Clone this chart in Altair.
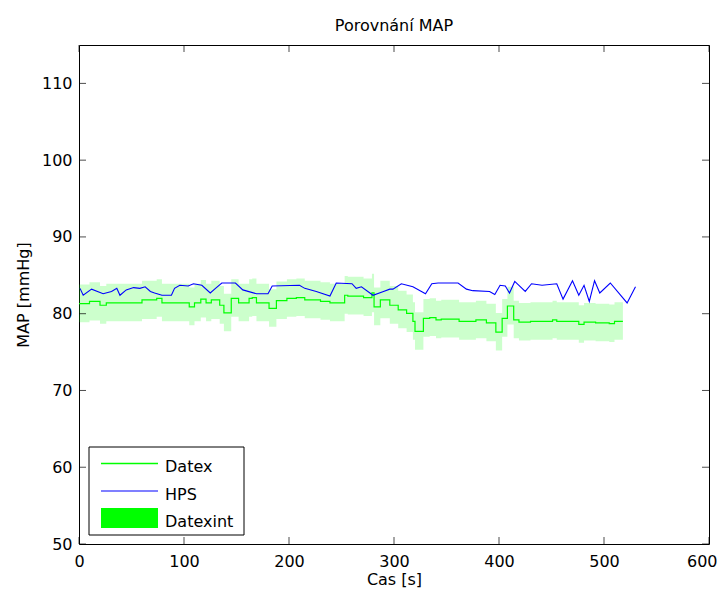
import altair as alt
import pandas as pd

# ---- data ----
hps_t = [1, 4, 12, 23, 31, 36, 39, 45, 52, 58, 63, 68, 72, 79, 88, 91, 96, 104, 109, 117,
         125, 130, 136, 142, 149, 156, 169, 180, 184, 210, 215, 226, 239, 245, 260, 264, 269,
         279, 280, 290, 296, 299, 307, 318, 330, 336, 342, 349, 361, 369, 375, 391, 396, 401,
         406, 410, 415, 425, 431, 441, 455, 461, 470, 476, 481, 486, 491, 496, 506, 522, 530]
hps_map = [83.3, 82.4, 83.2, 82.6, 82.9, 83.3, 82.4, 83.1, 83.4, 83.3, 83.5, 82.9, 82.7, 82.4,
           82.4, 83.3, 83.7, 83.6, 83.9, 83.7, 82.7, 83.3, 84.0, 84.0, 84.0, 83.1, 82.6, 82.6,
           83.6, 83.7, 83.3, 82.9, 82.3, 84.0, 83.9, 83.3, 83.5, 82.5, 82.4, 82.9, 83.2, 83.2,
           83.9, 83.5, 82.6, 83.9, 84.0, 84.0, 84.0, 83.2, 83.0, 82.9, 82.5, 83.7, 83.6, 82.7,
           84.2, 82.9, 83.9, 83.7, 83.9, 81.9, 84.3, 82.4, 83.7, 81.6, 84.3, 82.7, 84.0, 81.4, 83.5]

datex_t = [0, 10, 20, 26, 60, 74, 79, 105, 110, 116, 121, 126, 134, 138, 145, 152, 162, 165,
           169, 181, 188, 198, 207, 215, 230, 239, 253, 256, 271, 279, 281, 287, 296, 304, 312,
           318, 320, 328, 334, 340, 345, 362, 378, 388, 397, 403, 408, 414, 419, 430, 451, 455,
           476, 481, 492, 505, 510, 518]
datex_map = [81.3, 81.6, 81.1, 81.4, 81.8, 82.0, 81.4, 80.9, 81.4, 81.9, 81.4, 81.8, 81.1, 80.1,
             82.0, 81.4, 82.0, 82.1, 81.4, 80.7, 81.7, 82.0, 82.1, 81.8, 81.6, 81.4, 82.4, 82.3,
             82.1, 82.7, 80.9, 81.8, 81.1, 80.5, 80.05, 79.0, 77.7, 79.4, 79.5, 79.2, 79.3, 79.0,
             79.2, 78.8, 77.6, 79.4, 81.0, 79.2, 78.9, 79.0, 79.2, 79.0, 78.6, 78.9, 78.8, 78.7,
             79.0, 79.0]
datex_lo = [78.9, 79.1, 78.7, 79.0, 79.3, 79.6, 79.0, 78.5, 79.0, 79.5, 79.0, 79.3, 78.7, 77.7,
            79.6, 79.0, 79.6, 79.7, 79.0, 78.3, 79.3, 79.6, 79.7, 79.4, 79.2, 79.0, 80.0, 79.9,
            79.7, 80.2, 78.5, 79.4, 78.7, 78.1, 77.6, 76.6, 75.3, 77.0, 77.1, 76.8, 76.9, 76.6,
            76.8, 76.4, 75.2, 77.0, 78.6, 76.8, 76.5, 76.6, 76.8, 76.6, 76.2, 76.5, 76.4, 76.3,
            76.6, 76.6]
datex_hi = [83.8, 84.1, 83.6, 83.9, 84.3, 84.5, 83.9, 83.4, 83.9, 84.4, 83.9, 84.3, 83.6, 82.6,
            84.5, 83.9, 84.5, 84.6, 83.9, 83.2, 84.2, 84.5, 84.6, 84.3, 84.1, 83.9, 84.9, 84.8,
            84.6, 85.2, 83.4, 84.3, 83.6, 83.0, 82.5, 81.5, 80.2, 81.9, 82.0, 81.7, 81.8, 81.5,
            81.7, 81.3, 80.1, 81.9, 83.5, 81.7, 81.4, 81.5, 81.7, 81.5, 81.1, 81.4, 81.3, 81.2,
            81.5, 81.5]

x_ticks = [0, 100, 200, 300, 400, 500, 600]
y_ticks = [50, 60, 70, 80, 90, 100, 110]
legend_labels = ["Datex", "HPS", "Datexint"]

# ---- layout ----
W, H = 630, 499
FONT = "DejaVu Sans"
GREEN = "#00ff00"
BLUE = "#0000ff"

hps = pd.DataFrame({"t": hps_t, "map": hps_map})
datex = pd.DataFrame({"t": datex_t, "map": datex_map, "lo": datex_lo, "hi": datex_hi})
xt = pd.DataFrame({"v": x_ticks})
yt = pd.DataFrame({"v": y_ticks})
one = pd.DataFrame({"a": [0]})

xs = alt.Scale(domain=[0, 600], nice=False, zero=False)
ys = alt.Scale(domain=[50, 115], nice=False, zero=False)

last_x = "datum.value == %d" % x_ticks[-1]
x_axis = alt.Axis(
    values=x_ticks, title="Cas [s]", labelPadding=9, titlePadding=2,
    labelFlush=False, labelOverlap=False, format="d",
    labelAlign={"condition": {"test": last_x, "value": "right"}, "value": "center"},
    labelOffset={"condition": {"test": last_x, "value": 8}, "value": 0},
)
y_axis = alt.Axis(values=y_ticks, title="MAP [mmHg]", labelPadding=7, titlePadding=10,
                  labelFlush=False, labelOverlap=False, format="d")

band = alt.Chart(datex).mark_area(interpolate="step-after", color=GREEN, opacity=0.2).encode(
    x=alt.X("t:Q", scale=xs, axis=x_axis),
    y=alt.Y("lo:Q", scale=ys, axis=y_axis),
    y2="hi:Q",
)
green = alt.Chart(datex).mark_line(interpolate="step-after", color=GREEN, strokeWidth=1.2).encode(
    x=alt.X("t:Q", scale=xs), y=alt.Y("map:Q", scale=ys)
)
blue = alt.Chart(hps).mark_line(color=BLUE, strokeWidth=1.1).encode(
    x=alt.X("t:Q", scale=xs), y=alt.Y("map:Q", scale=ys)
)

tick_kw = dict(color="black", size=7, thickness=1)
xt_bot = alt.Chart(xt).mark_tick(**tick_kw).encode(x=alt.X("v:Q", scale=xs), y=alt.value(H - 3.5))
xt_top = alt.Chart(xt).mark_tick(**tick_kw).encode(x=alt.X("v:Q", scale=xs), y=alt.value(3.5))
yt_left = alt.Chart(yt).mark_tick(**tick_kw).encode(y=alt.Y("v:Q", scale=ys), x=alt.value(3.5))
yt_right = alt.Chart(yt).mark_tick(**tick_kw).encode(y=alt.Y("v:Q", scale=ys), x=alt.value(W - 3.5))

# ---- legend box (bottom-left, inside the axes) ----
leg_box = alt.Chart(one).mark_rect(fill="white", stroke="black", strokeWidth=1).encode(
    x=alt.value(10), x2=alt.value(165), y=alt.value(402), y2=alt.value(490)
)
leg_l1 = alt.Chart(one).mark_rule(stroke=GREEN, color=GREEN, strokeWidth=1.5).encode(
    x=alt.value(22), x2=alt.value(79), y=alt.value(418.5)
)
leg_l2 = alt.Chart(one).mark_rule(stroke=BLUE, color=BLUE, strokeWidth=1.2).encode(
    x=alt.value(22), x2=alt.value(79), y=alt.value(446)
)
leg_patch = alt.Chart(one).mark_rect(color=GREEN).encode(
    x=alt.value(22), x2=alt.value(79), y=alt.value(463), y2=alt.value(483)
)
text_kw = dict(font=FONT, fontSize=16, color="black", align="left", baseline="alphabetic")
leg_t1 = alt.Chart(one).mark_text(text=legend_labels[0], **text_kw).encode(x=alt.value(86), y=alt.value(427))
leg_t2 = alt.Chart(one).mark_text(text=legend_labels[1], **text_kw).encode(x=alt.value(86), y=alt.value(455))
leg_t3 = alt.Chart(one).mark_text(text=legend_labels[2], **text_kw).encode(x=alt.value(86), y=alt.value(482))

chart = alt.layer(
    band, green, blue, xt_bot, xt_top, yt_left, yt_right,
    leg_box, leg_l1, leg_l2, leg_patch, leg_t1, leg_t2, leg_t3,
).properties(
    width=W, height=H,
    title=alt.TitleParams("Porovnání MAP", font=FONT, fontSize=16, fontWeight="normal",
                          color="black", offset=11),
    autosize=alt.AutoSizeParams(type="none"),
    padding={"left": 71, "top": 37, "right": 9, "bottom": 45},
    background="white",
).configure_view(
    stroke="black", strokeWidth=1, fill="white"
).configure_axis(
    domain=False, grid=False, ticks=False, tickSize=0,
    labelFont=FONT, labelFontSize=16, labelColor="black",
    titleFont=FONT, titleFontSize=16, titleFontWeight="normal", titleColor="black",
)

chart.save("out.html", embed_options={"renderer": "svg", "actions": False})
